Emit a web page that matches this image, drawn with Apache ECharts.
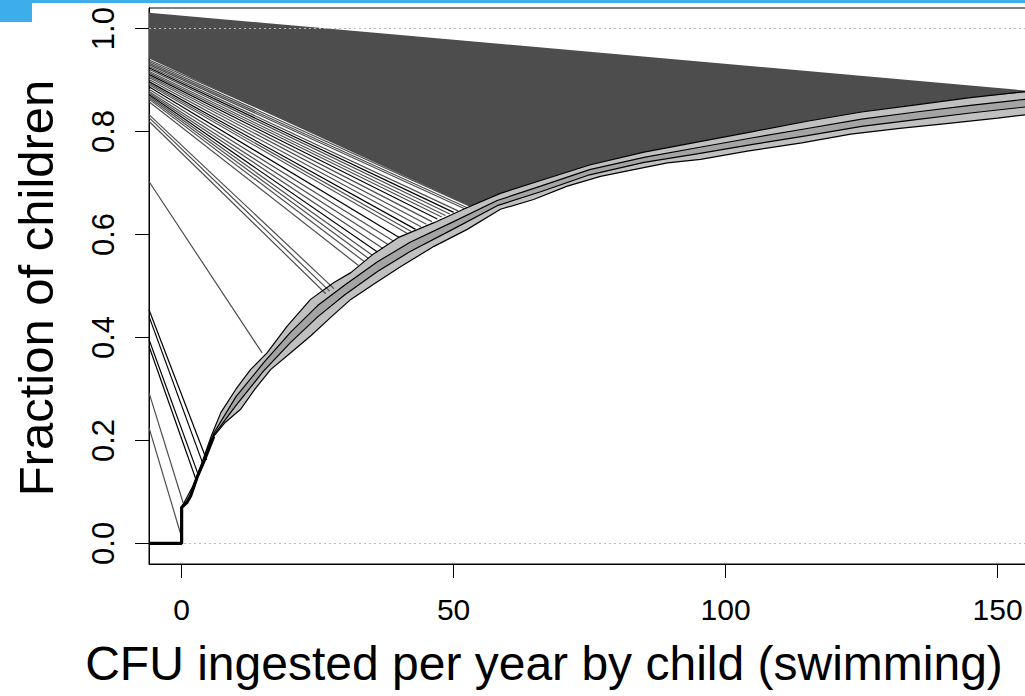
<!DOCTYPE html>
<html><head><meta charset="utf-8">
<script src="https://cdn.jsdelivr.net/npm/echarts@6/dist/echarts.min.js"></script>
<style>html,body{margin:0;padding:0;overflow:hidden;background:#fff}#c{width:1100px;height:696px}</style>
</head><body><div id="c"></div><script>
// ---- data ----
const xTicks = [0, 50, 100, 150];
const yTicks = [0, 0.2, 0.4, 0.6, 0.8, 1.0];
const refLevels = [0, 1];
const xTitle = 'CFU ingested per year by child (swimming)';
const yTitle = 'Fraction of children';

// ECDF start: zero up to the jump at 0
const startX = [-6, 0, 0];
const startF = [0, 0, 0.07];

// upper ECDF envelope
const upperX = [0, 1, 2, 3, 4, 5.5, 7.2, 10, 12.7, 15.7, 19.4, 23.7, 28, 31.1, 35, 40, 46.4, 52, 58.6, 66, 75, 85, 95, 105, 115, 125, 135, 145, 157];
const upperF = [0.07, 0.09, 0.11, 0.135, 0.165, 0.21, 0.254, 0.30, 0.338, 0.37, 0.422, 0.474, 0.507, 0.526, 0.56, 0.595, 0.623, 0.65, 0.68, 0.705, 0.735, 0.76, 0.78, 0.80, 0.82, 0.838, 0.852, 0.866, 0.88];
// lower ECDF envelope
const lowerX = [0, 1, 1.65, 2.9, 4.0, 5.9, 8, 10.8, 13.5, 16.4, 20, 23.7, 27.5, 31.1, 35.5, 40.3, 46.4, 52.5, 58.6, 64.7, 70.9, 77, 83.1, 89.3, 95.4, 104, 114, 123, 132, 141, 150, 157];
const lowerF = [0.07, 0.08, 0.092, 0.13, 0.157, 0.208, 0.235, 0.26, 0.30, 0.338, 0.37, 0.403, 0.44, 0.474, 0.505, 0.538, 0.577, 0.61, 0.649, 0.668, 0.694, 0.713, 0.726, 0.739, 0.746, 0.762, 0.778, 0.795, 0.806, 0.816, 0.826, 0.835];
// inner ECDF curves
const innerX = [3, 6, 10, 15, 20, 25, 30, 36, 42, 50, 58, 66, 75, 85, 95, 105, 115, 125, 135, 145, 157];
const inner1F = [0.134, 0.216, 0.285, 0.35, 0.41, 0.462, 0.502, 0.547, 0.585, 0.625, 0.666, 0.694, 0.726, 0.75, 0.769, 0.788, 0.806, 0.824, 0.838, 0.851, 0.865];
const inner2F = [0.133, 0.212, 0.268, 0.334, 0.39, 0.44, 0.483, 0.528, 0.567, 0.611, 0.656, 0.683, 0.716, 0.74, 0.757, 0.775, 0.792, 0.81, 0.823, 0.836, 0.85];

// dense fan of lines (drawn as a filled wedge)
const fanTopX = [-6, 157];
const fanTopF = [1.031, 0.878];
const fanBottomX = [-6, 53];
const fanBottomF = [0.942, 0.655];

// individual connector lines: left-edge value -> end point on the curve
const segStartF = [0.225, 0.293, 0.383, 0.396, 0.441, 0.454, 0.703, 0.820, 0.827, 0.833,
  0.858, 0.863, 0.866, 0.869, 0.872, 0.875, 0.878, 0.882, 0.887, 0.891, 0.894, 0.897, 0.901, 0.905, 0.908, 0.911, 0.914, 0.917, 0.921, 0.924, 0.927, 0.930, 0.933, 0.936, 0.939];
const segEndX   = [0.0, 0.3, 2.6, 3.0, 4.0, 4.6, 14.8, 26.5, 27.2, 28.0,
  32.5, 33.5, 34.3, 35.0, 36.0, 37.0, 38.0, 39.0, 40.0, 41.5, 42.2, 43.0, 44.0, 45.0, 46.0, 47.0, 47.8, 48.5, 49.3, 50.0, 50.8, 52.0, 52.5, 53.0, 54.0];
const segEndF   = [0.012, 0.078, 0.125, 0.135, 0.152, 0.162, 0.37, 0.485, 0.49, 0.495,
  0.54, 0.548, 0.554, 0.56, 0.566, 0.573, 0.58, 0.587, 0.594, 0.602, 0.606, 0.61, 0.615, 0.62, 0.625, 0.63, 0.634, 0.637, 0.64, 0.643, 0.646, 0.65, 0.652, 0.655, 0.66];
const segBlack  = [0, 0, 1, 1, 1, 1, 0, 0, 0, 0,
  0, 0, 0, 0, 1, 0, 0, 0, 1, 0, 0, 1, 0, 0, 0, 1, 0, 0, 0, 1, 0, 0, 0, 0, 0];

// ---- chart ----
const FONT = '"Liberation Sans", Arial, Helvetica, sans-serif';
const zip = (xs, ys) => xs.map((x, i) => [x, ys[i]]);
const upperPts = zip(upperX, upperF);
const lowerPts = zip(lowerX, lowerF);
const in1Pts = zip(innerX, inner1F);
const in2Pts = zip(innerX, inner2F);

function polygon(name, pts, fill, z) {
  return {
    type: 'custom', name, coordinateSystem: 'cartesian2d', z, silent: true, clip: true,
    data: [[0, 0]],
    renderItem: (p, api) => ({
      type: 'polygon',
      shape: { points: pts.map(q => api.coord(q)) },
      style: { fill: fill, stroke: null }
    })
  };
}
function curve(name, pts, width, z) {
  return {
    type: 'line', name, data: pts, showSymbol: false, symbol: 'none', silent: true, z,
    lineStyle: { color: '#000', width: width }, clip: true, animation: false
  };
}

const bandPts = lowerPts.concat(upperPts.slice().reverse());
const innerBandPts = in2Pts.concat(in1Pts.slice().reverse());
const fanPts = zip(fanTopX, fanTopF)
  .concat(upperPts.filter(p => p[0] > fanBottomX[1] && p[0] < fanTopX[1]).reverse())
  .concat([[fanBottomX[1], fanBottomF[1]], [fanBottomX[0], fanBottomF[0]]]);

const segData = segStartF.map((f, i) => ({
  coords: [[-6, f], [segEndX[i], segEndF[i]]],
  lineStyle: { color: segBlack[i] ? '#000' : '#4d4d4d' }
}));

const thickPts = zip(startX, startF).concat(lowerPts.slice(0, 6));

const chart = echarts.init(document.getElementById('c'), null, { renderer: 'svg' });
chart.setOption({
  animation: false,
  backgroundColor: '#fff',
  grid: { left: 149, top: 8, width: 903, height: 556, show: true, borderColor: '#000', borderWidth: 1, backgroundColor: 'transparent' },
  xAxis: {
    type: 'value', min: -6, max: 160,
    axisLine: { show: true, onZero: false, lineStyle: { color: '#000', width: 1 } },
    axisTick: { show: true, length: 14, customValues: xTicks, lineStyle: { color: '#000', width: 1 } },
    axisLabel: { customValues: xTicks, color: '#000', fontSize: 30, fontFamily: FONT, margin: 30 },
    splitLine: { show: false }
  },
  yAxis: {
    type: 'value', min: -0.04, max: 1.04,
    axisLine: { show: true, onZero: false, lineStyle: { color: '#000', width: 1 } },
    axisTick: { show: true, length: 14, customValues: yTicks, lineStyle: { color: '#000', width: 1 } },
    axisLabel: { customValues: yTicks, rotate: 90, color: '#000', fontSize: 31, fontFamily: FONT, margin: 30,
      formatter: v => v.toFixed(1) },
    splitLine: { show: false }
  },
  graphic: [
    { type: 'rect', shape: { x: 0, y: 0, width: 1025, height: 3 }, style: { fill: '#3daee9' }, z: 100 },
    { type: 'rect', shape: { x: 0, y: 0, width: 32, height: 22 }, style: { fill: '#3daee9' }, z: 100 },
    { type: 'text', x: 544, y: 663, style: { text: xTitle, fontSize: 48, fontFamily: FONT, fill: '#000', align: 'center', verticalAlign: 'middle' } },
    { type: 'text', x: 36, y: 288, rotation: Math.PI / 2, style: { text: yTitle, fontSize: 49, fontFamily: FONT, fill: '#000', align: 'center', verticalAlign: 'middle' } }
  ],
  series: [
    { type: 'line', data: [], silent: true, z: 1,
      markLine: { symbol: 'none', silent: true, label: { show: false },
        lineStyle: { type: [2, 3], color: '#bbbbbb', width: 1 },
        data: refLevels.map(v => ({ yAxis: v })) } },
    polygon('band', bandPts, '#c0c0c0', 2),
    polygon('innerBand', innerBandPts, '#a4a4a4', 2),
    { type: 'lines', coordinateSystem: 'cartesian2d', polyline: false, silent: true, z: 3,
      lineStyle: { width: 1.2, opacity: 1 }, data: segData },
    polygon('fan', fanPts, '#4d4d4d', 3),
    curve('lower', lowerPts, 1.2, 5),
    curve('upper', upperPts, 1.2, 5),
    curve('inner1', in1Pts, 1.2, 5),
    curve('inner2', in2Pts, 1.2, 5),
    curve('start', thickPts, 3.2, 6)
  ]
});
</script></body></html>
